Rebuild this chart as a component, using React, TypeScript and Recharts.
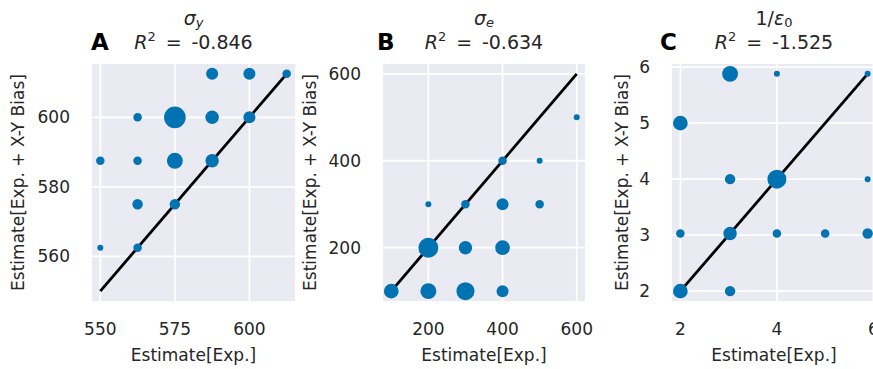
import { ScatterChart, Scatter, XAxis, YAxis, ZAxis, CartesianGrid } from "recharts";

// panel A: sigma_y
const aX = [550, 550, 562.5, 562.5, 562.5, 562.5, 575, 575, 575, 587.5, 587.5, 587.5, 600, 600, 612.5];
const aY = [562.5, 587.5, 562.5, 575, 587.5, 600, 575, 587.5, 600, 587.5, 600, 612.5, 600, 612.5, 612.5];
const aN = [1, 2, 2, 3, 2, 2, 3, 7, 13, 5, 5, 4, 4, 4, 2];
const aDiag = [550, 612.5];
const aXTicks = [550, 575, 600];
const aYTicks = [560, 580, 600];

// panel B: sigma_e
const bX = [100, 200, 300, 400, 200, 300, 400, 200, 300, 400, 500, 400, 500, 600];
const bY = [100, 100, 100, 100, 200, 200, 200, 300, 300, 300, 300, 400, 400, 500];
const bN = [6, 7, 9, 4, 11, 5, 6, 1, 2, 4, 2, 2, 1, 1];
const bDiag = [100, 600];
const bXTicks = [200, 400, 600];
const bYTicks = [200, 400, 600];

// panel C: 1/eps_0
const cX = [2, 2, 2, 3.03, 3.03, 3.03, 3.03, 4, 4, 4, 5, 5.88, 5.88, 5.88];
const cY = [2, 3.03, 5, 2, 3.03, 4, 5.88, 3.03, 4, 5.88, 3.03, 3.03, 4, 5.88];
const cN = [6, 2, 6, 3, 5, 3, 7, 2, 10, 1, 2, 3, 1, 1];
const cDiag = [2, 5.88];
const cXTicks = [2, 4, 6];
const cYTicks = [2, 3, 4, 5, 6];

const r2Values = ["-0.846", "-0.634", "-1.525"];

const FONT = "DejaVu Sans";
const TEXT = "#262626";
const BLUE = "#0173B2";
const BG = "#EAEAF2";

const toPoints = (xs: number[], ys: number[], ns: number[]) =>
  xs.map((x, i) => ({ x, y: ys[i], n: ns[i] }));
const toDiag = (d: number[]) => d.map((v) => ({ x: v, y: v, n: 0 }));

const pad = (lo: number, hi: number): [number, number] => {
  const m = (hi - lo) * 0.05;
  return [lo - m, hi + m];
};

const Y_AXIS_W = 90;
const PLOT_TOP = 63;
const X_AXIS_H = 67;
const H = 369;

interface PanelProps {
  plotLeft: number;
  plotWidth: number;
  xs: number[];
  ys: number[];
  ns: number[];
  diag: number[];
  xTicks: number[];
  yTicks: number[];
}

const Panel = ({ plotLeft, plotWidth, xs, ys, ns, diag, xTicks, yTicks }: PanelProps) => {
  const domain = pad(diag[0], diag[1]);
  const tick = { fill: TEXT, fontSize: 17, fontFamily: FONT };
  return (
    <div style={{ position: "absolute", left: plotLeft - Y_AXIS_W, top: 0 }}>
      <ScatterChart
        width={Y_AXIS_W + plotWidth + 10}
        height={H}
        margin={{ top: PLOT_TOP, right: 10, bottom: 0, left: 0 }}
      >
        <CartesianGrid fill={BG} stroke="#ffffff" strokeWidth={1.8} />
        <XAxis
          type="number"
          dataKey="x"
          domain={domain}
          ticks={xTicks}
          allowDataOverflow
          axisLine={false}
          tickLine={false}
          tickMargin={15}
          height={X_AXIS_H}
          tick={tick}
        />
        <YAxis
          type="number"
          dataKey="y"
          domain={domain}
          ticks={yTicks}
          allowDataOverflow
          axisLine={false}
          tickLine={false}
          tickMargin={15}
          width={Y_AXIS_W}
          tick={tick}
        />
        <ZAxis type="number" dataKey="n" domain={[0, 13]} range={[0, 368]} />
        <Scatter
          data={toDiag(diag)}
          line={{ stroke: "#000000", strokeWidth: 2.8 }}
          shape={() => <g />}
          isAnimationActive={false}
        />
        <Scatter data={toPoints(xs, ys, ns)} fill={BLUE} isAnimationActive={false} />
      </ScatterChart>
    </div>
  );
};

const panels = [
  { plotLeft: 91, plotWidth: 205, xs: aX, ys: aY, ns: aN, diag: aDiag, xTicks: aXTicks, yTicks: aYTicks, letter: "A", letterX: 91, labelDist: 73 },
  { plotLeft: 382, plotWidth: 204, xs: bX, ys: bY, ns: bN, diag: bDiag, xTicks: bXTicks, yTicks: bYTicks, letter: "B", letterX: 377, labelDist: 72 },
  { plotLeft: 671, plotWidth: 206, xs: cX, ys: cY, ns: cN, diag: cDiag, xTicks: cXTicks, yTicks: cYTicks, letter: "C", letterX: 660, labelDist: 49 },
];

const TitleTop = ({ i, cx }: { i: number; cx: number }) => {
  const base = { x: cx, y: 25, textAnchor: "middle" as const, fontSize: 19, fill: TEXT, fontFamily: FONT };
  if (i === 0)
    return (
      <text {...base}>
        <tspan fontStyle="italic">σ</tspan>
        <tspan fontStyle="italic" fontSize={13} dy={2}>y</tspan>
      </text>
    );
  if (i === 1)
    return (
      <text {...base}>
        <tspan fontStyle="italic">σ</tspan>
        <tspan fontStyle="italic" fontSize={13} dy={2}>e</tspan>
      </text>
    );
  return (
    <text {...base}>
      1/<tspan fontStyle="italic">ε</tspan>
      <tspan fontSize={13} dy={2}>0</tspan>
    </text>
  );
};

export default function App() {
  return (
    <div
      style={{
        position: "absolute",
        left: 0,
        top: 0,
        width: 873,
        height: H,
        overflow: "hidden",
        background: "#ffffff",
      }}
    >
      {panels.map((p) => (
        <Panel key={p.letter} {...p} />
      ))}
      <svg
        width={873}
        height={H}
        style={{ position: "absolute", left: 0, top: 0, pointerEvents: "none" }}
      >
        {panels.map((p, i) => {
          const cx = p.plotLeft + p.plotWidth / 2;
          const cy = PLOT_TOP + (H - X_AXIS_H - PLOT_TOP) / 2;
          const lx = p.plotLeft - p.labelDist;
          return (
            <g key={p.letter} fontFamily={FONT} fill={TEXT}>
              <text x={p.letterX} y={50} fontSize={23} fontWeight="bold" fill="#000">
                {p.letter}
              </text>
              <TitleTop i={i} cx={cx} />
              <text x={cx} y={48.5} textAnchor="middle" fontSize={19}>
                <tspan fontStyle="italic">R</tspan>
                <tspan fontSize={13} dy={-8}>2</tspan>
                <tspan dy={8}>{" \u2009=\u2009 " + r2Values[i]}</tspan>
              </text>
              <text x={cx} y={355} textAnchor="middle" dominantBaseline="central" fontSize={17}>
                Estimate[Exp.]
              </text>
              <text
                x={lx}
                y={cy}
                textAnchor="middle"
                dominantBaseline="central"
                fontSize={17}
                transform={`rotate(-90 ${lx} ${cy})`}
              >
                Estimate[Exp. + X-Y Bias]
              </text>
            </g>
          );
        })}
      </svg>
    </div>
  );
}
